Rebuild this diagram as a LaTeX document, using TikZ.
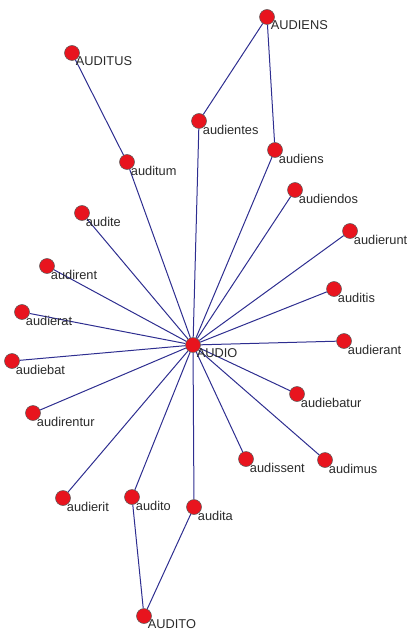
\documentclass[tikz,border=0pt]{standalone}
\usepackage{fontspec}
\setmainfont{Liberation Sans}
\usetikzlibrary{backgrounds}
\definecolor{dotred}{HTML}{E8141E}
\definecolor{dotrim}{HTML}{5A5A5A}
\definecolor{edgeblue}{HTML}{2E2E90}
\definecolor{lbltext}{HTML}{2A2A2A}

\tikzset{
  vertex/.style={circle, fill=dotred, draw=dotrim, line width=0.5pt,
    minimum size=15pt, inner sep=0pt},
  lbl/.style={font=\fontsize{12.8}{14}\selectfont, text=lbltext, inner sep=0pt,
    label distance=-2.5pt},
  edge/.style={draw=edgeblue, line width=1pt}
}

\begin{document}
\begin{tikzpicture}[x=1pt, y=-1pt]
  \useasboundingbox (0,0) rectangle (415,636);
  % vertices, label to the lower right
  \foreach \n/\x/\y in {AUDIENS/267/17, AUDITUS/72/53, audientes/199/121,
      audiens/275/150, auditum/127/162, audiendos/295/190, audite/82/213,
      audierunt/350/231, audirent/47/266, auditis/334/289, audierat/22/312,
      AUDIO/193/345, audierant/344/341, audiebat/12/361, audiebatur/297/394,
      audirentur/33/413, audissent/246/459, audimus/325/460, audierit/63/498,
      audito/132/497, audita/194/507, AUDITO/144/616}
    \node[vertex, label={[lbl]below right:\n}] (\n) at (\x,\y) {};
  \begin{pgfonlayer}{background}
    \foreach \n in {audientes, audiens, auditum, audiendos, audite, audierunt,
        audirent, auditis, audierat, audierant, audiebat, audiebatur,
        audirentur, audissent, audimus, audierit, audito, audita}
      \draw[edge] (AUDIO) -- (\n);
    \draw[edge] (AUDIENS) -- (audientes);
    \draw[edge] (AUDIENS) -- (audiens);
    \draw[edge] (AUDITUS) -- (auditum);
    \draw[edge] (AUDITO) -- (audito);
    \draw[edge] (AUDITO) -- (audita);
  \end{pgfonlayer}
\end{tikzpicture}
\end{document}
